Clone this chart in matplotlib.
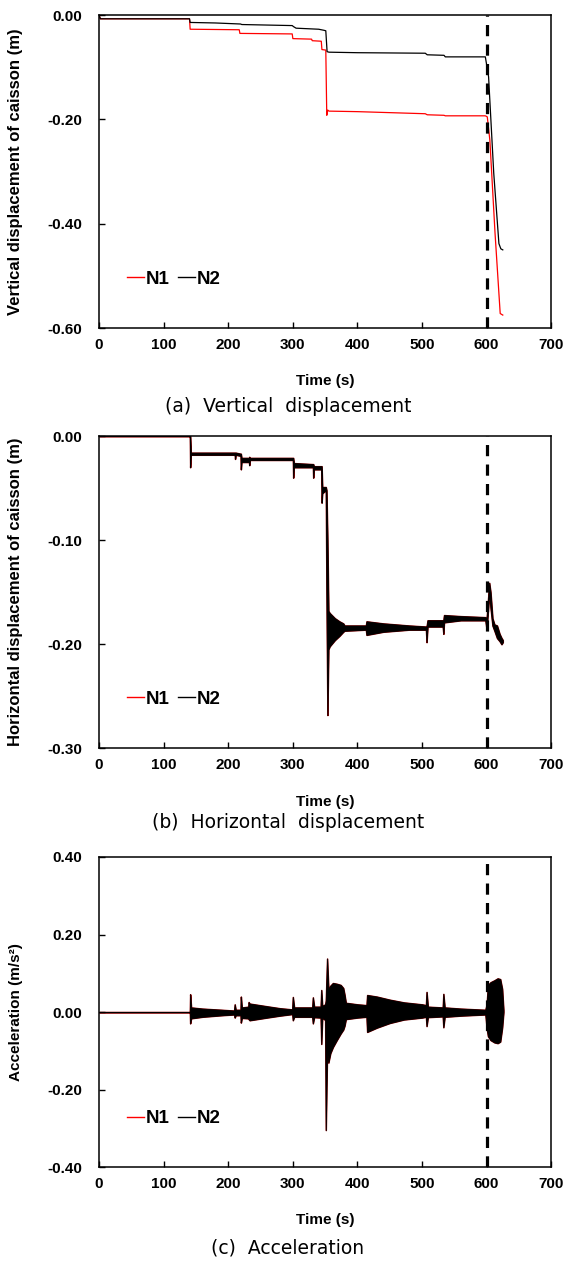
import numpy as np
import matplotlib
matplotlib.use('Agg')
import matplotlib.pyplot as plt
from matplotlib.lines import Line2D
from matplotlib.ticker import FormatStrFormatter

plt.rcParams['font.family'] = ['Liberation Sans', 'DejaVu Sans']
plt.rcParams['axes.unicode_minus'] = False

# (a) vertical displacement
a_time_n1 = [0, 2, 140, 141, 217, 218, 299, 300, 329, 330, 344, 345, 351, 352.5, 354, 356,
             400, 505, 508, 534, 536, 598, 601, 605, 613, 621, 625]
a_disp_n1 = [0, -0.007, -0.007, -0.027, -0.028, -0.035, -0.036, -0.045, -0.046, -0.049, -0.050,
             -0.066, -0.067, -0.192, -0.182, -0.184, -0.185, -0.189, -0.191, -0.192, -0.193,
             -0.193, -0.195, -0.24, -0.418, -0.572, -0.575]
a_time_n2 = [0, 2, 140, 141, 180, 219, 221, 299, 301, 305, 340, 348, 351, 353, 356,
             400, 505, 508, 534, 536, 598, 603, 611, 619, 622, 625]
a_disp_n2 = [0, -0.007, -0.007, -0.014, -0.015, -0.017, -0.018, -0.020, -0.022, -0.025, -0.027,
             -0.029, -0.030, -0.070, -0.071, -0.072, -0.073, -0.076, -0.077, -0.080, -0.080,
             -0.118, -0.303, -0.438, -0.448, -0.450]

# (b) horizontal displacement: envelope of the oscillating trace (N1 and N2 coincide)
b_time = [0, 140.5, 141, 142, 210, 210.5, 211.5, 219, 219.5, 220.5, 232, 232.5, 233.5, 300,
          300.5, 301.5, 331, 331.5, 332.5, 344, 344.5, 345.5, 351, 352, 353.5, 355, 357, 365,
          372, 378, 380, 413, 414, 440, 480, 506, 507, 508.5, 532, 533, 534, 560, 598, 600,
          604, 606, 609, 612, 616, 620, 623, 625]
b_high = [0, 0, 0, -0.016, -0.016, -0.016, -0.016, -0.017, -0.017, -0.021, -0.021, -0.020,
          -0.021, -0.021, -0.021, -0.026, -0.027, -0.027, -0.029, -0.029, -0.029, -0.049,
          -0.049, -0.052, -0.100, -0.168, -0.170, -0.175, -0.178, -0.180, -0.182, -0.182,
          -0.178, -0.180, -0.182, -0.183, -0.183, -0.177, -0.177, -0.177, -0.172, -0.173,
          -0.174, -0.175, -0.141, -0.150, -0.175, -0.181, -0.182, -0.190, -0.194, -0.196]
b_low = [0, 0, -0.030, -0.018, -0.018, -0.022, -0.018, -0.019, -0.032, -0.025, -0.025, -0.028,
         -0.023, -0.023, -0.040, -0.030, -0.030, -0.040, -0.032, -0.032, -0.064, -0.055,
         -0.052, -0.150, -0.268, -0.205, -0.202, -0.196, -0.192, -0.188, -0.187, -0.186,
         -0.191, -0.188, -0.186, -0.186, -0.198, -0.183, -0.183, -0.190, -0.179, -0.177,
         -0.177, -0.186, -0.150, -0.165, -0.182, -0.187, -0.194, -0.197, -0.200, -0.198]

# (c) acceleration: envelope of the oscillating trace (N1 and N2 coincide)
c_time = [0, 140.5, 141, 142.5, 160, 190, 209, 210, 211.5, 219, 219.5, 221, 231, 231.5, 233,
          260, 280, 299, 300, 302, 330, 331, 333, 343, 344, 345.5, 350, 351, 353, 355, 358,
          362, 368, 374, 378, 380, 382, 400, 414, 415, 430, 450, 472, 500, 506, 507, 509, 520,
          532, 533, 535, 560, 598, 600, 602, 606, 612, 617, 621, 624, 626]
c_high = [0, 0, 0.046, 0.012, 0.009, 0.006, 0.004, 0.020, 0.006, 0.006, 0.040, 0.012, 0.014,
          0.026, 0.022, 0.015, 0.010, 0.007, 0.039, 0.012, 0.012, 0.038, 0.014, 0.014, 0.057,
          0.016, 0.020, 0.030, 0.138, 0.060, 0.068, 0.075, 0.073, 0.070, 0.062, 0.045, 0.024,
          0.020, 0.018, 0.044, 0.040, 0.032, 0.025, 0.020, 0.018, 0.052, 0.014, 0.013, 0.012,
          0.047, 0.012, 0.009, 0.006, 0.020, 0.070, 0.077, 0.082, 0.087, 0.085, 0.060, 0.005]
c_low = [0, 0, -0.029, -0.016, -0.012, -0.008, -0.006, -0.014, -0.008, -0.008, -0.027, -0.015,
         -0.016, -0.018, -0.021, -0.014, -0.009, -0.005, -0.021, -0.012, -0.012, -0.029,
         -0.013, -0.014, -0.082, -0.015, -0.020, -0.304, -0.100, -0.130, -0.106, -0.090,
         -0.072, -0.055, -0.045, -0.035, -0.018, -0.014, -0.012, -0.051, -0.040, -0.028,
         -0.019, -0.014, -0.012, -0.036, -0.013, -0.012, -0.011, -0.039, -0.012, -0.009,
         -0.006, -0.040, -0.062, -0.072, -0.078, -0.080, -0.076, -0.040, 0.0]

x_ticks = [0, 100, 200, 300, 400, 500, 600, 700]


def style_axes(ax, ylim, yticks, ylabel, ylabel_size):
    ax.set_xlim(0, 700)
    ax.set_ylim(*ylim)
    ax.set_xticks(x_ticks)
    ax.set_yticks(yticks)
    ax.yaxis.set_major_formatter(FormatStrFormatter('%.2f'))
    ax.tick_params(axis='both', direction='in', length=4, width=1, top=False, right=False,
                   labelsize=11)
    ax.tick_params(axis='x', pad=7)
    ax.tick_params(axis='y', pad=12)
    for lab in ax.get_xticklabels() + ax.get_yticklabels():
        lab.set_fontweight('bold')
    for sp in ax.spines.values():
        sp.set_linewidth(1.1)
    ax.set_xlabel('Time (s)', fontsize=11, fontweight='bold')
    ax.xaxis.set_label_coords(0.5, -0.148)
    ax.set_ylabel(ylabel, fontsize=ylabel_size, fontweight='bold')
    ax.yaxis.set_label_coords(-0.168, 0.5)
    ax.axvline(600, color='k', lw=2.3, ls=(0, (3.5, 2.6)), zorder=5)
    handles = [Line2D([], [], color='red', lw=1), Line2D([], [], color='black', lw=1)]
    ax.legend(handles, ['N1', 'N2'], ncol=2, loc='center left', bbox_to_anchor=(0.062, 0.157),
              frameon=False, borderpad=0, borderaxespad=0, handlelength=0.9,
              handletextpad=0.1, columnspacing=0.45, prop={'weight': 'bold', 'size': 13.5})


def plot_band(ax, t, hi, lo):
    # N1 drawn underneath, N2 on top: the two records overlap
    ax.fill_between(t, lo, hi, color='#8b0000', lw=1.1, edgecolor='#8b0000')
    ax.fill_between(t, lo, hi, color='black', lw=0.6, edgecolor='black')


fig = plt.figure(figsize=(5.76, 12.62), dpi=100)
ax_a = fig.add_axes([0.172, 0.740, 0.785, 0.248])
ax_b = fig.add_axes([0.172, 0.407, 0.785, 0.2475])
ax_c = fig.add_axes([0.172, 0.075, 0.785, 0.246])

ax_a.plot(a_time_n1, a_disp_n1, color='red', lw=0.9)
ax_a.plot(a_time_n2, a_disp_n2, color='black', lw=0.9)
style_axes(ax_a, (-0.6, 0), [0, -0.2, -0.4, -0.6], 'Vertical displacement of caisson (m)', 12)

plot_band(ax_b, b_time, b_high, b_low)
style_axes(ax_b, (-0.3, 0), [0, -0.1, -0.2, -0.3], 'Horizontal displacement of caisson (m)', 12)

plot_band(ax_c, c_time, c_high, c_low)
style_axes(ax_c, (-0.4, 0.4), [0.4, 0.2, 0, -0.2, -0.4], 'Acceleration (m/s²)', 11)

caption_font = {'family': 'DejaVu Sans', 'size': 13.5}
fig.text(0.5, 1 - 407 / 1262, '(a)  Vertical  displacement', ha='center', va='center', **caption_font)
fig.text(0.5, 1 - 823 / 1262, '(b)  Horizontal  displacement', ha='center', va='center', **caption_font)
fig.text(0.5, 1 - 1248 / 1262, '(c)  Acceleration', ha='center', va='center', **caption_font)

fig.savefig('out.png', dpi=100)
